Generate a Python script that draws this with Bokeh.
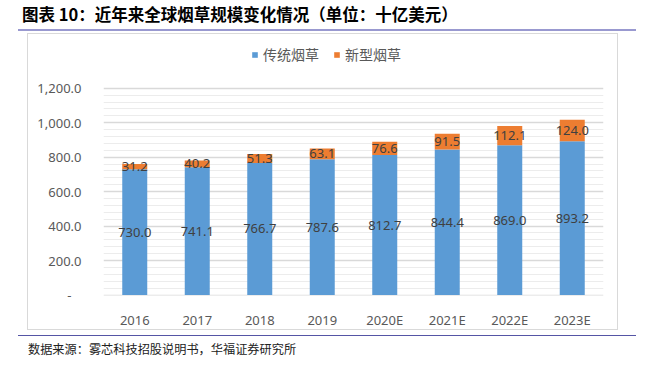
from bokeh.plotting import figure
from bokeh.layouts import column
from bokeh.models import (ColumnDataSource, FactorRange, Range1d, FixedTicker,
                          NumeralTickFormatter, LabelSet, Legend, LegendItem, Div)
from bokeh.core.properties import value
from bokeh.embed import file_html
from bokeh.resources import INLINE

years = ["2016", "2017", "2018", "2019", "2020E", "2021E", "2022E", "2023E"]
traditional = [730.0, 741.1, 766.7, 787.6, 812.7, 844.4, 869.0, 893.2]
new_type = [31.2, 40.2, 51.3, 63.1, 76.6, 91.5, 112.1, 124.0]
series_names = ["传统烟草", "新型烟草"]
y_major = [0, 200, 400, 600, 800, 1000, 1200]
y_minor_step = 40
title_text = "图表 10：近年来全球烟草规模变化情况（单位：十亿美元）"
source_text = "数据来源：雾芯科技招股说明书，华福证券研究所"

BLUE = "#5b9bd5"
ORANGE = "#ed7d31"
TXT = "#595959"
LBL = "#404040"
FONT = "Noto Sans"
CJK = "Noto Sans CJK SC"

src = ColumnDataSource(dict(
    year=years,
    trad=traditional,
    new=new_type,
    trad_mid=[t / 2 for t in traditional],
    new_mid=[t + n / 2 for t, n in zip(traditional, new_type)],
    trad_lbl=[f"{t:.1f}" for t in traditional],
    new_lbl=[f"{n:.1f}" for n in new_type],
))

# frame: canvas x 75..575, y 0..262 ; value 0 at y 261.5, 1200 at y 54
p = figure(width=591, height=297, x_range=FactorRange(factors=years),
           y_range=Range1d(-2.9, 1512.3),
           output_backend="svg", toolbar_location=None,
           min_border_left=75, min_border_right=16, min_border_top=0, min_border_bottom=35,
           margin=(2, 0, 0, 27),
           styles={"border": "1px solid #d9d9d9"})
p.outline_line_color = None
p.background_fill_color = "white"
p.border_fill_color = "white"

rs = p.vbar_stack(["trad", "new"], x="year", width=0.4, color=[BLUE, ORANGE], source=src,
                  line_color=None)

minor = [v for v in range(0, y_major[-1] + 1, y_minor_step) if v not in y_major]
p.yaxis.ticker = FixedTicker(ticks=y_major, minor_ticks=minor)
p.yaxis.formatter = NumeralTickFormatter(format="0,0.0")
p.yaxis.major_label_overrides = {0: "-\u00a0\u00a0\u00a0"}
for ax in (p.xaxis[0], p.yaxis[0]):
    ax.axis_line_color = None
    ax.major_tick_line_color = None
    ax.minor_tick_line_color = None
    ax.major_label_text_font = FONT
    ax.major_label_text_font_size = "13px"
    ax.major_label_text_color = TXT
p.yaxis.major_label_standoff = 16
p.xaxis.major_label_standoff = 9

p.xgrid.grid_line_color = None
p.ygrid.grid_line_color = "#d9d9d9"
p.ygrid.grid_line_width = 1.5
p.ygrid.minor_grid_line_color = "#ececec"
p.ygrid.minor_grid_line_width = 1

for col, lab in (("trad_mid", "trad_lbl"), ("new_mid", "new_lbl")):
    p.add_layout(LabelSet(x="year", y=col, text=lab, source=src, text_align="center",
                          text_baseline="middle", text_font=value(FONT),
                          text_font_size=value("13px"), text_color=LBL))

legend = Legend(items=[LegendItem(label=series_names[0], renderers=[rs[0]]),
                       LegendItem(label=series_names[1], renderers=[rs[1]])],
                location=(148, 231), orientation="horizontal",
                glyph_width=7, glyph_height=7, label_standoff=5, spacing=14,
                label_text_font=CJK, label_text_font_size="14px", label_text_color=TXT,
                label_height=20, padding=0, margin=0,
                border_line_color=None, background_fill_alpha=0)
p.add_layout(legend, "center")

title_div = Div(text=title_text, width=618, height=25, margin=(6, 0, 0, 18),
                styles={"border-bottom": "2px solid #9999d0", "box-sizing": "border-box",
                        "padding-left": "4px", "font-family": CJK, "font-size": "16.5px",
                        "font-weight": "bold", "line-height": "16px", "color": "#000000",
                        "white-space": "nowrap", "overflow": "visible"})
source_div = Div(text=source_text, width=618, height=20, margin=(5, 0, 0, 18),
                 styles={"border-top": "1.5px solid #5555a5", "box-sizing": "border-box",
                         "padding-left": "10px", "font-family": CJK, "font-size": "12.2px",
                         "line-height": "26px", "color": "#222222",
                         "white-space": "nowrap", "overflow": "visible"})

layout = column(title_div, p, source_div, spacing=0)

open("out.html", "w").write(file_html(layout, INLINE))
